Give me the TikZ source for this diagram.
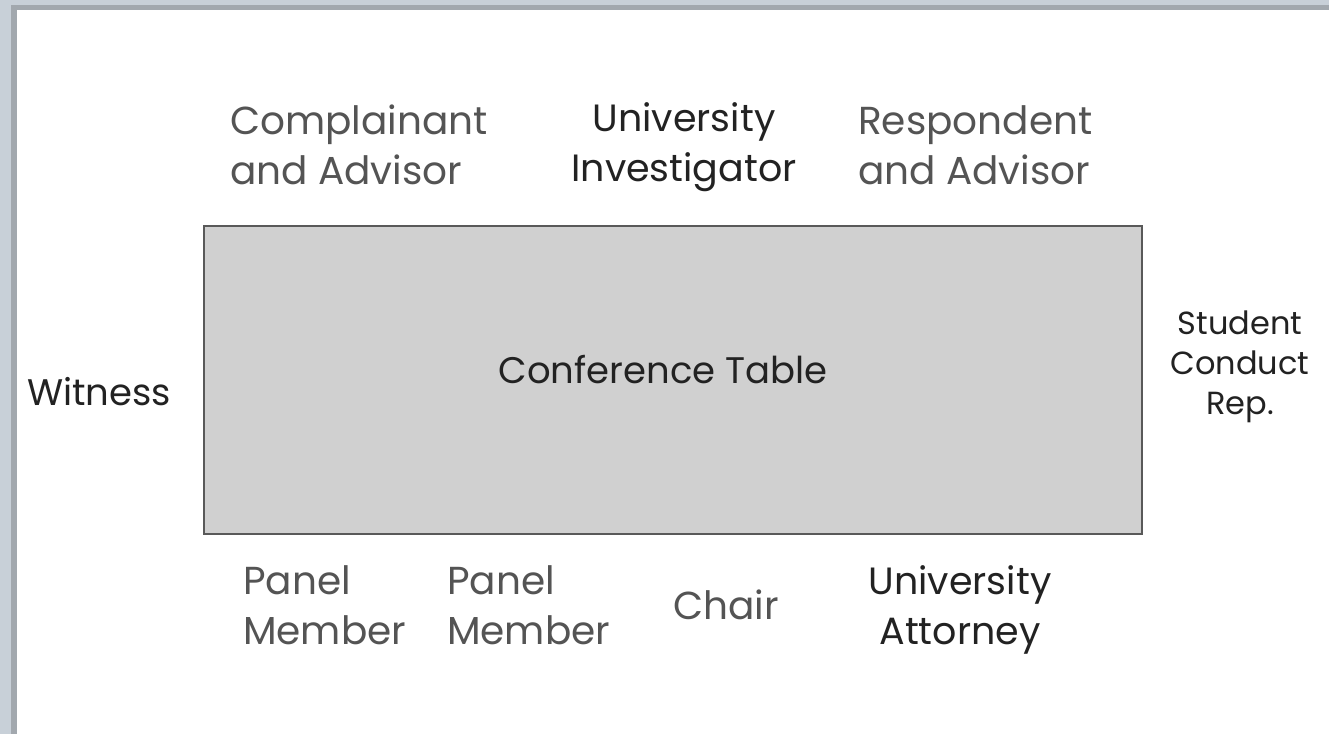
\documentclass[tikz,border=0pt]{standalone}
\usepackage{fontspec}
\setmainfont{Poppins}
\definecolor{lightgt}{HTML}{545454}
\definecolor{darkt}{HTML}{222222}
\definecolor{tablefill}{HTML}{D0D0D0}
\definecolor{tableline}{HTML}{595959}
\definecolor{edgelight}{HTML}{C8D0D8}
\definecolor{edgedark}{HTML}{A2A8AE}
\tikzset{
  big/.style={font=\fontsize{39}{50}\selectfont, align=left, inner sep=0pt},
  lbl/.style={big, text=lightgt},
  dlbl/.style={big, font=\fontsize{38}{50}\selectfont, text=darkt},
  small/.style={font=\fontsize{32}{40}\selectfont, align=center, inner sep=0pt, text=darkt},
  tablebox/.style={draw=tableline, line width=1.5pt, fill=tablefill}
}
\begin{document}
\begin{tikzpicture}[x=1pt,y=-1pt]
\useasboundingbox (0,0) rectangle (1329,734);
\fill[white] (0,0) rectangle (1329,734);
% window edges
\fill[edgelight] (0,0) rectangle (1329,10);
\fill[edgedark] (17,5) rectangle (1329,10);
\fill[edgelight] (0,0) rectangle (17,734);
\fill[edgedark] (11,5) rectangle (17,734);
% table
\node[tablebox, minimum width=938pt, minimum height=308pt, anchor=north west, inner sep=0pt] (table) at (203,225) {};
\node[dlbl, font=\fontsize{37}{40}\selectfont] (ct) at (663,370) {Conference Table};
% top
\node[lbl, anchor=west] (comp) at (230,145) {Complainant\\and Advisor};
\node[dlbl, align=center] (inv) at (684,147) {University\\Investigator};
\node[lbl, anchor=west] (resp) at (858,145) {Respondent\\and Advisor};
% sides
\node[dlbl, font=\fontsize{37}{40}\selectfont, anchor=west] (wit) at (27,392) {Witness};
\node[small] (scr) at (1240,367) {Student\\Conduct\\Rep.};
% bottom
\node[lbl, anchor=west] (pm1) at (243,605) {Panel\\Member};
\node[lbl, anchor=west] (pm2) at (447,605) {Panel\\Member};
\node[lbl] (chair) at (726,605) {Chair};
\node[dlbl, align=center] (att) at (960,610) {University\\Attorney};
\end{tikzpicture}
\end{document}
